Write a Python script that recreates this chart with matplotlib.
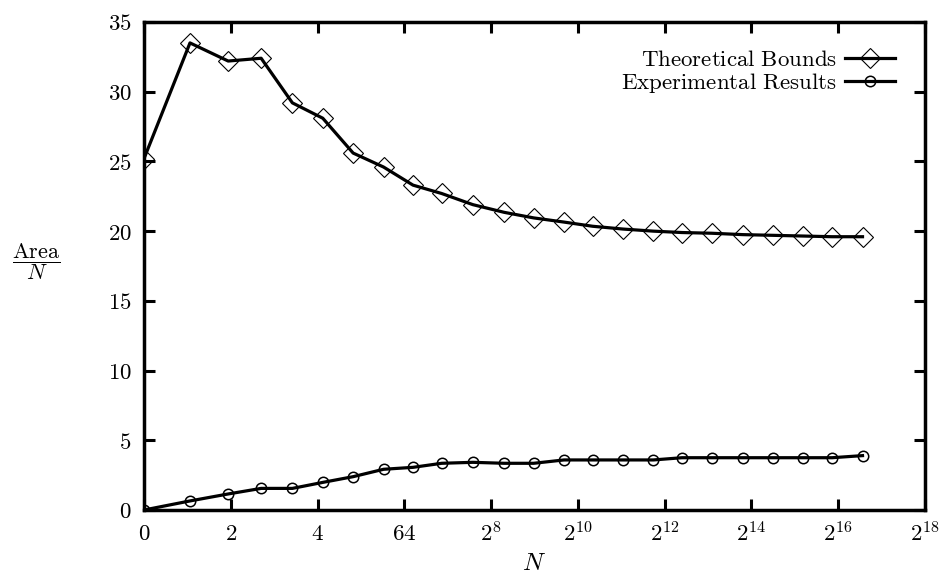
import matplotlib
matplotlib.use("Agg")
import matplotlib.pyplot as plt
from matplotlib.legend_handler import HandlerLine2D

plt.rcParams['mathtext.fontset'] = 'cm'
plt.rcParams['font.family'] = ['DejaVu Serif']

# x positions (axis units, ticks equally spaced)
x_pos = [0, 0.53, 0.97, 1.35, 1.71, 2.06, 2.41, 2.76, 3.10, 3.43, 3.79, 4.15,
         4.49, 4.84, 5.17, 5.52, 5.87, 6.20, 6.54, 6.90, 7.25, 7.59, 7.93, 8.28]
theoretical = [25.2, 33.5, 32.2, 32.4, 29.2, 28.1, 25.6, 24.6, 23.3, 22.7, 21.9, 21.35,
               20.95, 20.65, 20.35, 20.15, 20.0, 19.9, 19.85, 19.75, 19.7, 19.65, 19.6, 19.6]
experimental = [0, 0.65, 1.15, 1.55, 1.55, 1.98, 2.39, 2.92, 3.06, 3.35, 3.42, 3.35,
                3.35, 3.59, 3.59, 3.59, 3.59, 3.75, 3.75, 3.75, 3.75, 3.75, 3.75, 3.9]
x_ticklabels = [r'$0$', r'$2$', r'$4$', r'$64$', r'$2^{8}$', r'$2^{10}$',
                r'$2^{12}$', r'$2^{14}$', r'$2^{16}$', r'$2^{18}$']
y_ticks = [0, 5, 10, 15, 20, 25, 30, 35]


class LeftMarkerHandler(HandlerLine2D):
    def get_xdata(self, legend, xdescent, ydescent, width, height, fontsize):
        xdata = [-xdescent, -xdescent + width]
        xdata_marker = [-xdescent + 0.25 * width]
        return xdata, xdata_marker


fig = plt.figure(figsize=(9.42, 5.79), dpi=100)
ax = fig.add_axes([144/942, 1-510/579, (925-144)/942, (510-22)/579])

l1, = ax.plot(x_pos, theoretical, color='black', lw=2.3, marker='D', ms=10,
              mfc='none', mec='black', mew=0.8, label=r'$\mathrm{Theoretical\ Bounds}$')
l2, = ax.plot(x_pos, experimental, color='black', lw=2.3, marker='o', ms=7.5,
              mfc='none', mec='black', mew=1.1, label=r'$\mathrm{Experimental\ Results}$')

ax.set_xlim(0, 9)
ax.set_ylim(0, 35)
ax.set_xticks(range(10))
ax.set_xticklabels(x_ticklabels)
ax.set_yticks(y_ticks)
ax.set_yticklabels([rf'${v}$' for v in y_ticks])
ax.tick_params(direction='in', length=8, width=2.2, top=True, right=True,
               labelsize=16.5, pad=9)
for s in ax.spines.values():
    s.set_linewidth(2.5)

ax.set_xlabel(r'$N$', fontsize=18, labelpad=4)
fig.text(36/942, 1-262/579, r'$\dfrac{\mathrm{Area}}{N}$', fontsize=16,
         ha='center', va='center')

leg = ax.legend(handler_map={l1: LeftMarkerHandler(), l2: LeftMarkerHandler()},
                loc='upper right', frameon=False, markerfirst=False,
                fontsize=16.5, handlelength=2.2, handletextpad=0.35,
                labelspacing=0.0, borderaxespad=0.0, borderpad=0.0,
                bbox_to_anchor=((895-144)/781, 0.945))

fig.savefig('out.png', dpi=100)
